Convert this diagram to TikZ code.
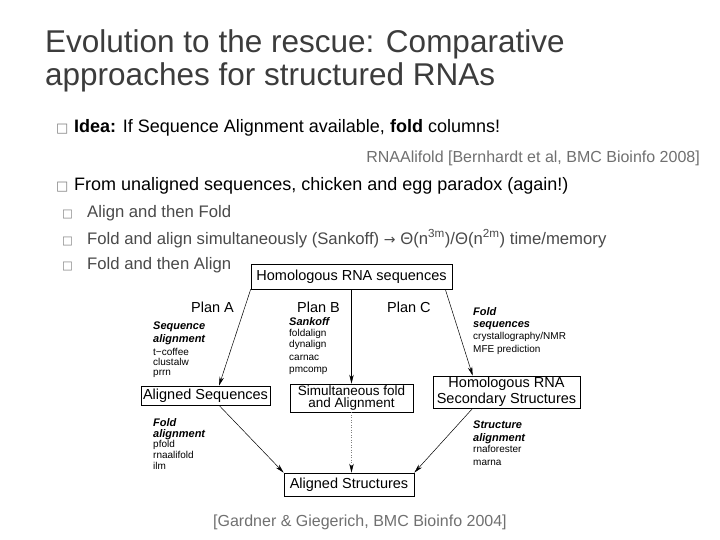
\documentclass[tikz,border=0pt]{standalone}
\usepackage{fontspec}
\setmainfont{Liberation Sans}
\newfontfamily\djv{DejaVu Sans}
\usetikzlibrary{arrows.meta,calc}
\definecolor{titlec}{HTML}{3C3C3C}
\definecolor{subc}{HTML}{4A4A4A}
\definecolor{citec}{HTML}{707070}
\definecolor{bulc}{HTML}{808080}
\newcommand{\fs}[1]{\fontsize{#1}{#1}\selectfont}
\begin{document}
\begin{tikzpicture}[x=1pt,y=-1pt,
  txt/.style={inner sep=0pt, anchor=base west},
  bul/.style={inner sep=0pt, anchor=base west, text=bulc, font=\djv\fs{13}},
  boxnode/.style={draw=black, line width=0.6pt, inner sep=0pt, align=center, font=\fs{14.5}},
  arr/.style={-{Stealth[length=9pt,width=4.5pt,color=black]}, line width=0.5pt, draw=black},
  ann/.style={inner sep=0pt, anchor=base west, font=\fs{10}},
  annb/.style={inner sep=0pt, anchor=base west, font=\fs{11}\bfseries\itshape},
  plan/.style={inner sep=0pt, anchor=west, font=\fs{14.5}}]
\useasboundingbox (0,0) rectangle (720,540);
\fill[white] (0,0) rectangle (720,540);

% title
\node[txt, text=titlec, font=\fs{31.5}] (t1) at (45,53) {Evolution to the rescue: Comparative};
\node[txt, text=titlec, font=\fs{31.5}] (t2) at (45,86) {approaches for structured RNAs};

% bullets
\node[bul] (b1) at (56,133) {□};
\node[txt, font=\fs{18}] (l1) at (74,133) {\textbf{Idea:} If Sequence Alignment available, \textbf{fold} columns!};
\node[inner sep=0pt, anchor=base east, text=citec, font=\fs{16}] (c1) at (700,163) {RNAAlifold [Bernhardt et al, BMC Bioinfo 2008]};
\node[bul] (b2) at (56,191) {□};
\node[txt, font=\fs{18}] (l2) at (74,191) {From unaligned sequences, chicken and egg paradox (again!)};
\node[bul, font=\djv\fs{11.5}] (s1b) at (62,218) {□};
\node[txt, text=subc, font=\fs{16.7}] (s1) at (87,218) {Align and then Fold};
\node[bul, font=\djv\fs{11.5}] (s2b) at (62,244) {□};
\node[txt, text=subc, font=\fs{16.7}] (s2) at (87,244) {Fold and align simultaneously (Sankoff) {\djv\fs{14}→} Θ(n\textsuperscript{3m})/Θ(n\textsuperscript{2m}) time/memory};
\node[bul, font=\djv\fs{11.5}] (s3b) at (62,269) {□};
\node[txt, text=subc, font=\fs{16.7}] (s3) at (87,269) {Fold and then Align};

% diagram boxes
\node[boxnode, minimum width=201pt, minimum height=25pt] (hrs) at (351.5,276.5) {Homologous RNA sequences};
\node[boxnode, minimum width=129pt, minimum height=19pt] (as) at (205.5,395.5) {Aligned Sequences};
\node[boxnode, minimum width=123pt, minimum height=28pt, font=\fontsize{13.5}{12}\selectfont] (sfa) at (351.5,398) {Simultaneous fold\\and Alignment};
\node[boxnode, minimum width=147pt, minimum height=32pt, font=\fontsize{14.5}{16}\selectfont] (hrss) at (506.5,392) {Homologous RNA\\Secondary Structures};
\node[boxnode, minimum width=130pt, minimum height=23pt] (ast) at (349,484.5) {Aligned Structures};

% plan labels
\node[plan] (pa) at (191,307) {Plan A};
\node[plan] (pb) at (297,307) {Plan B};
\node[plan] (pc) at (387,307) {Plan C};

% annotations plan A
\node[annb] (a1) at (153,329) {Sequence};
\node[annb] (a2) at (153,342) {alignment};
\node[ann] (a3) at (153,355) {t−coffee};
\node[ann] (a4) at (153,365) {clustalw};
\node[ann] (a5) at (153,375) {prrn};
% plan B
\node[annb] (bb1) at (289,325) {Sankoff};
\node[ann] (bb2) at (289,336) {foldalign};
\node[ann] (bb3) at (289,347) {dynalign};
\node[ann] (bb4) at (289,360) {carnac};
\node[ann] (bb5) at (289,372) {pmcomp};
% plan C
\node[annb] (c1a) at (473,315) {Fold};
\node[annb] (c2a) at (473,327) {sequences};
\node[ann] (c3a) at (473,339) {crystallography/NMR};
\node[ann] (c4a) at (473,352) {MFE prediction};
% fold alignment
\node[annb] (d1) at (153,426) {Fold};
\node[annb] (d2) at (153,437) {alignment};
\node[ann] (d3) at (153,447) {pfold};
\node[ann] (d4) at (153,458) {rnaalifold};
\node[ann] (d5) at (153,469) {ilm};
% structure alignment
\node[annb] (e1) at (473,428) {Structure};
\node[annb] (e2) at (473,441) {alignment};
\node[ann] (e3) at (473,452) {rnaforester};
\node[ann] (e4) at (473,465) {marna};

% connectors
\draw[arr] (hrs.south west) -- ([xshift=13.5pt]as.north);
\draw[arr] (hrs.south -| sfa.north) -- (sfa.north);
\draw[arr] ([xshift=-7pt]hrs.south east) -- ([xshift=40pt]hrss.north west);
\draw[arr] ([xshift=13.5pt]as.south) -- (ast.north west);
\draw[arr, dotted, draw=gray] (sfa.south) -- (sfa.south |- ast.north);
\draw[arr] ([xshift=40pt]hrss.south west) -- (ast.north east);

% citation
\node[txt, text=citec, font=\fs{16}] (cit) at (213,526) {[Gardner \& Giegerich, BMC Bioinfo 2004]};
\end{tikzpicture}
\end{document}
